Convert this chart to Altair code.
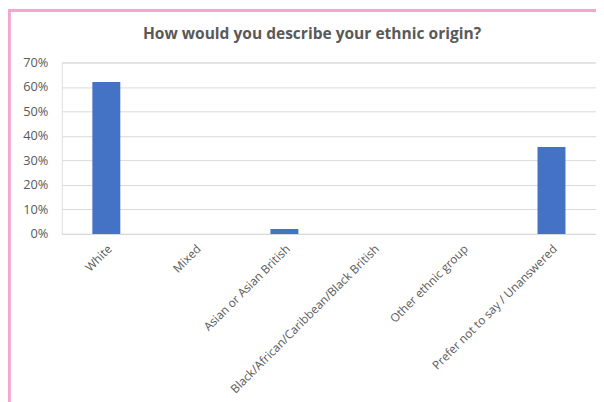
import altair as alt
import pandas as pd

categories = [
    "White",
    "Mixed",
    "Asian or Asian British",
    "Black/African/Caribbean/Black British",
    "Other ethnic group",
    "Prefer not to say / Unanswered",
]
values = [0.62, 0.0, 0.02, 0.0, 0.0, 0.355]
title_text = ["How would you describe your ethnic origin?"]

df = pd.DataFrame({"category": categories, "value": values})
tdf = pd.DataFrame({"t": title_text})

FONT = "Open Sans"
GREY = "#595959"

bars = alt.Chart(df).mark_bar(color="#4472C4").encode(
    x=alt.X(
        "category:N",
        sort=categories,
        scale=alt.Scale(paddingInner=0.686, paddingOuter=0.343),
        axis=alt.Axis(
            title=None,
            labelAngle=-45,
            labelFont=FONT,
            labelFontSize=11.8,
            labelColor=GREY,
            labelPadding=9,
            ticks=False,
            domainColor="#d9d9d9",
            domainWidth=1,
            labelLimit=400,
        ),
    ),
    y=alt.Y(
        "value:Q",
        scale=alt.Scale(domain=[0, 0.7]),
        axis=alt.Axis(
            title=None,
            format=".0%",
            values=[0, 0.1, 0.2, 0.3, 0.4, 0.5, 0.6, 0.7],
            labelFont=FONT,
            labelFontSize=12.8,
            labelColor=GREY,
            labelPadding=14,
            ticks=False,
            domain=False,
            gridColor="#d9d9d9",
            gridWidth=1,
        ),
    ),
)

frame = alt.Chart(df).mark_rect(
    fill=None, stroke="#f4a6cf", strokeWidth=2.5
).encode(
    x=alt.value(-53),
    x2=alt.value(620),
    y=alt.value(-52),
    y2=alt.value(400),
)

title = alt.Chart(tdf).mark_text(
    font=FONT,
    fontSize=15.6,
    fontWeight="bold",
    color=GREY,
    align="center",
    baseline="alphabetic",
).encode(
    text="t:N",
    x=alt.value(251),
    y=alt.value(-24),
)

chart = alt.layer(frame, bars, title).properties(
    width=536,
    height=172,
    padding={"left": 54, "top": 54, "right": 0, "bottom": 168},
    autosize=alt.AutoSizeParams(type="none"),
).configure_view(stroke=None).configure(background="white")

chart.save("out.html", embed_options={"renderer": "svg", "actions": False})
